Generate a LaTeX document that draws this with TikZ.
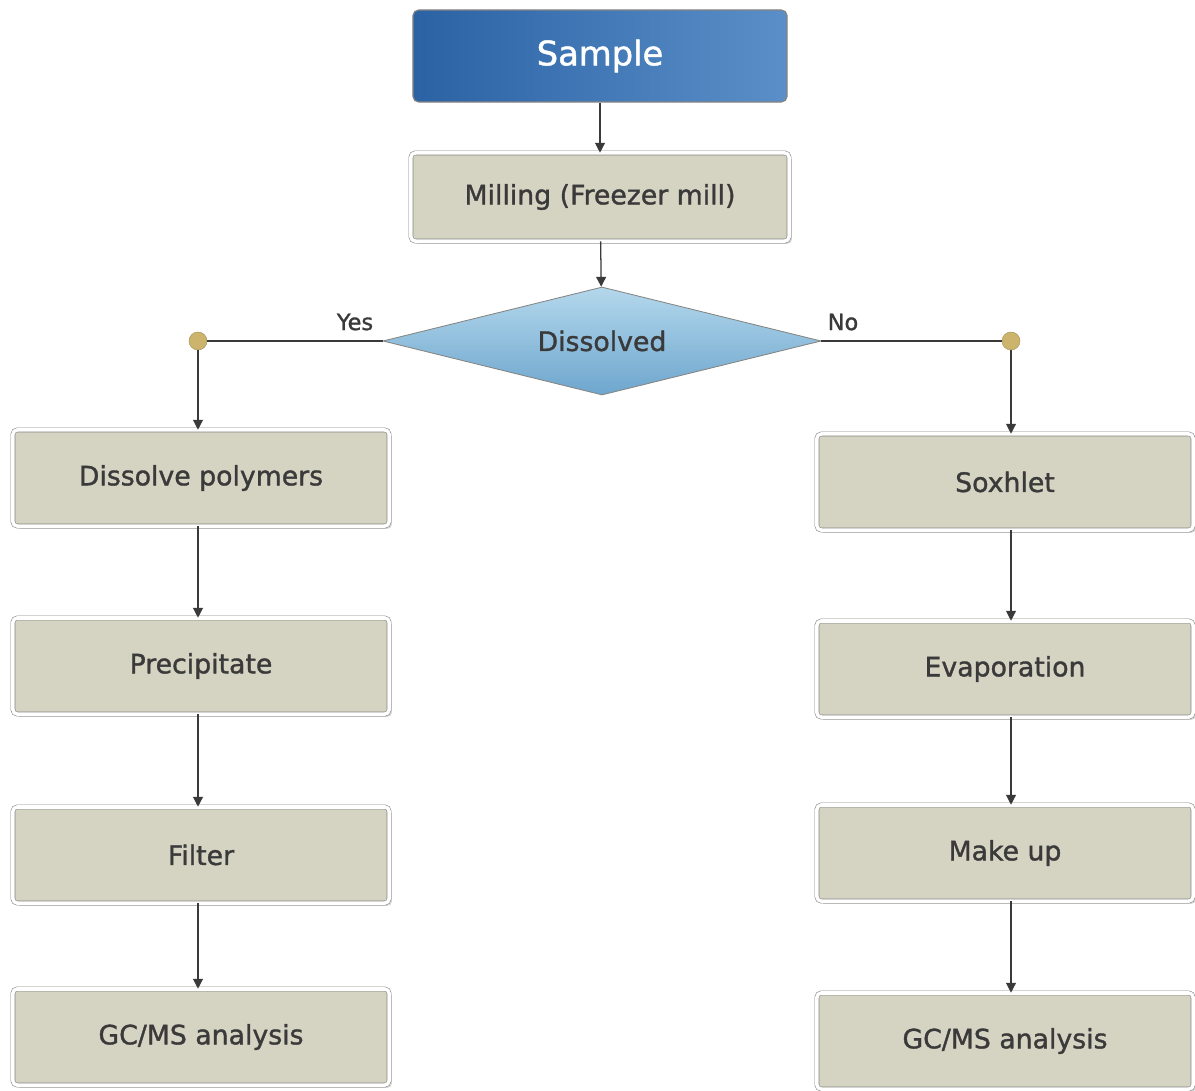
\documentclass[tikz,border=0pt]{standalone}
\usepackage{fontspec}
\setmainfont{DejaVu Sans}[FakeBold=1.3]
\usetikzlibrary{shapes.geometric,arrows.meta,shadows}
\definecolor{stepfill}{HTML}{D5D3C2}
\definecolor{stepline}{HTML}{858582}
\definecolor{textgray}{HTML}{3A3A3A}
\definecolor{sampledark}{HTML}{2B62A4}
\definecolor{samplelight}{HTML}{5A8FC8}
\definecolor{diamtop}{HTML}{B4D8EC}
\definecolor{diambot}{HTML}{6EA6CE}
\definecolor{dotgold}{HTML}{CDB46C}
\tikzset{
	stepbox/.style = {rectangle, rounded corners=3pt, draw=stepline, double=white, double distance=2.5pt,
		fill=stepfill, text=textgray, font=\fontsize{19}{22}\selectfont,
		minimum width=9.4cm, minimum height=2.4cm, drop shadow={opacity=0.3, shadow xshift=2pt, shadow yshift=-2pt}},
	flow/.style = {draw=textgray, line width=0.9pt, -{Triangle[width=7pt,length=7pt]}},
	link/.style = {draw=textgray, line width=0.9pt},
	joint/.style = {circle, fill=dotgold, draw=dotgold!80!black, line width=0.3pt, inner sep=0pt, minimum size=0.45cm},
	answer/.style = {text=textgray, font=\fontsize{16}{18}\selectfont}
}
\begin{document}
\begin{tikzpicture}[x=0.025cm, y=-0.025cm]
	\useasboundingbox (0,0) rectangle (1195,1090);
	\fill[white] (0,0) rectangle (1195,1090);

	\node (sample) at (600, 56)	[rectangle, rounded corners=4pt, draw=stepline, line width=0.8pt, left color=sampledark, right color=samplelight, text=white, font=\fontsize{24}{27}\selectfont, minimum width=9.35cm, minimum height=2.3cm]	{Sample};
	\node (mill) at (600, 197)	[stepbox, minimum width=9.45cm, minimum height=2.2cm]	{Milling (Freezer mill)};
	\node (diss) at (602, 341)	[diamond, draw=stepline, line width=0.6pt, top color=diamtop, bottom color=diambot, text=textgray, font=\fontsize{19}{22}\selectfont, aspect=4, minimum width=10.95cm, minimum height=2.7cm, inner sep=0pt]	{Dissolved};

	\node (jl) at (198, 341)	[joint]	{};
	\node (jr) at (1011, 341)	[joint]	{};
	\node (yes) at (355, 322)	[answer]	{Yes};
	\node (no) at (843, 322)	[answer]	{No};

	\node (poly) at (201, 478)	[stepbox]	{Dissolve polymers};
	\node (prec) at (201, 666)	[stepbox]	{Precipitate};
	\node (filt) at (201, 855)	[stepbox]	{Filter};
	\node (gcl) at (201, 1037)	[stepbox]	{GC/MS analysis};

	\node (soxh) at (1005, 482)	[stepbox]	{Soxhlet};
	\node (evap) at (1005, 669)	[stepbox]	{Evaporation};
	\node (mkup) at (1005, 853)	[stepbox]	{Make up};
	\node (gcr) at (1005, 1041)	[stepbox]	{GC/MS analysis};

	\draw[flow] (sample) -- (mill);
	\draw[flow] (mill) -- (diss);
	\draw[link] (diss.west) -- (jl);
	\draw[link] (diss.east) -- (jr);
	\draw[flow] (jl) -- (jl |- poly.north);
	\draw[flow] (jr) -- (jr |- soxh.north);
	\draw[flow] (jl |- poly.south) -- (jl |- prec.north);
	\draw[flow] (jl |- prec.south) -- (jl |- filt.north);
	\draw[flow] (jl |- filt.south) -- (jl |- gcl.north);
	\draw[flow] (jr |- soxh.south) -- (jr |- evap.north);
	\draw[flow] (jr |- evap.south) -- (jr |- mkup.north);
	\draw[flow] (jr |- mkup.south) -- (jr |- gcr.north);
\end{tikzpicture}
\end{document}
